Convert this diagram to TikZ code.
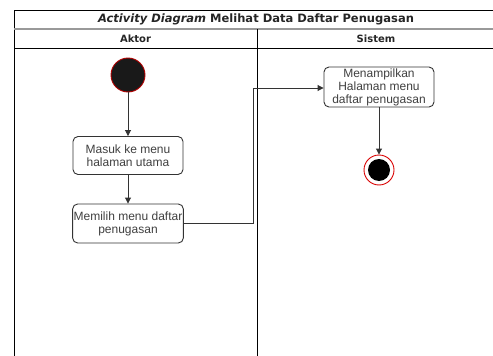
\documentclass[tikz,border=0pt]{standalone}
\usepackage{fontspec}
\setmainfont{Liberation Sans}
\newfontfamily\titlefont{DejaVu Sans}
\usetikzlibrary{arrows.meta}
\definecolor{boxline}{HTML}{333333}
\definecolor{sepgray}{HTML}{999999}
\definecolor{startred}{HTML}{B20000}
\tikzset{
  lane/.style={line width=1pt, black},
  actbox/.style={draw=boxline, line width=0.9pt, rounded corners=5pt, fill=white,
    minimum width=110pt, align=center, inner sep=1pt,
    font=\fontsize{12}{13}\selectfont, text=black!75},
  flow/.style={draw=boxline, line width=0.9pt, -{Triangle[length=6pt,width=6pt]}},
  hdr/.style={font=\titlefont\bfseries\fontsize{10}{12}\selectfont, text=black!85},
  ttl/.style={font=\titlefont\bfseries\fontsize{11.5}{13}\selectfont, text=black!85}
}
\begin{document}
\begin{tikzpicture}[x=1pt,y=-1pt]
\useasboundingbox (0,0) rectangle (493,356);
\fill[white] (0,0) rectangle (493,356);
% frame
\draw[lane] (498,10) -- (14,10) -- (14,360);
\draw[sepgray, line width=2pt] (14,29) -- (498,29);
\draw[lane] (14,48.5) -- (498,48.5);
\draw[lane] (257,29) -- (257,360);
\node[ttl] (title) at (256,19.5) {\itshape Activity Diagram\upshape{} Melihat Data Daftar Penugasan};
\node[hdr] (aktor) at (135.5,38.5) {Aktor};
\node[hdr] (sistem) at (376,38.5) {Sistem};
% nodes
\node[circle, draw=startred, line width=0.9pt, fill=black!90, minimum size=34pt, inner sep=0pt] (start) at (128,75) {};
\node[actbox, minimum height=38pt] (b1) at (128,155.5) {Masuk ke menu\\halaman utama};
\node[actbox, minimum height=39pt] (b2) at (128,223.5) {Memilih menu daftar\\penugasan};
\node[actbox, minimum height=40pt] (b3) at (379,87) {Menampilkan\\Halaman menu\\daftar penugasan};
\node[circle, draw=red!85!black, line width=0.9pt, fill=white, minimum size=30pt, inner sep=0pt] (end) at (379,170) {};
\node[circle, fill=black, minimum size=22pt, inner sep=0pt] (endin) at (379,170) {};
\coordinate (bend1) at (253,223.5);
\coordinate (bend2) at (253,88);
% connectors
\draw[flow] (start) -- (b1);
\draw[flow] (b1) -- (b2);
\draw[flow] (b2.east) -- (bend1) -- (bend2) -- (b3.west |- bend2);
\draw[flow] (b3) -- (end);
\end{tikzpicture}
\end{document}
